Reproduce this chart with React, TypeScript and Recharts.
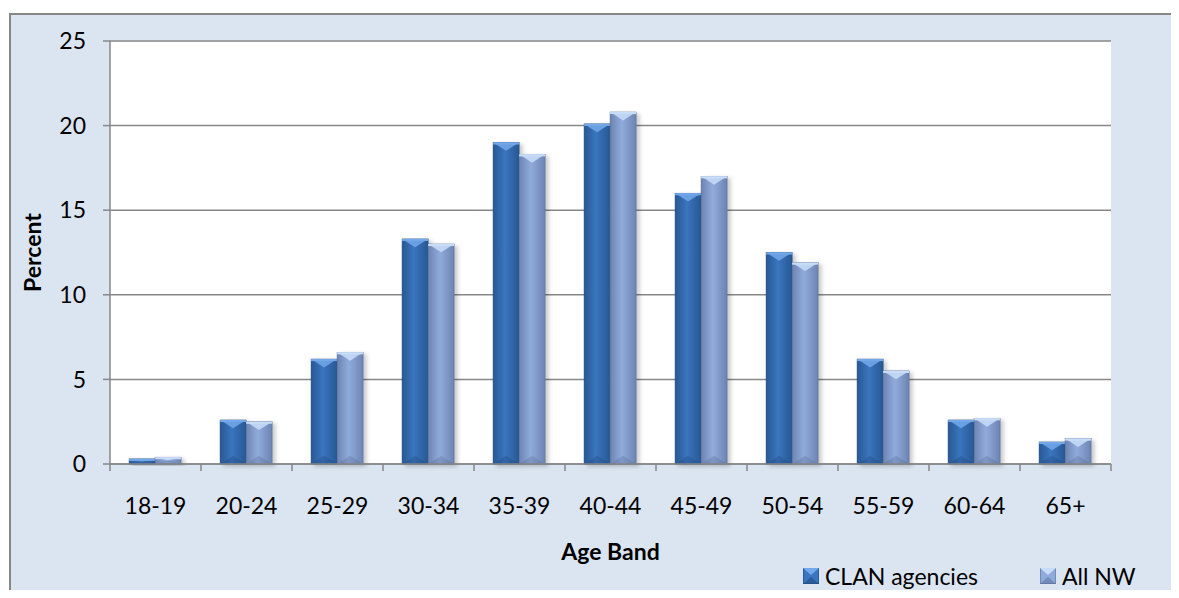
import { Bar, BarChart, CartesianGrid, Legend, XAxis, YAxis } from "recharts";

const ageBands = ["18-19", "20-24", "25-29", "30-34", "35-39", "40-44", "45-49", "50-54", "55-59", "60-64", "65+"];
const clanAgencies = [0.3, 2.6, 6.2, 13.3, 19.0, 20.1, 16.0, 12.5, 6.2, 2.6, 1.3];
const allNW = [0.4, 2.5, 6.6, 13.0, 18.3, 20.8, 17.0, 11.9, 5.5, 2.7, 1.5];
const yTicks = [0, 5, 10, 15, 20, 25];

const data = ageBands.map((band, i) => ({ band, clan: clanAgencies[i], nw: allNW[i] }));

const W = 1179;
const H = 598;
// the legend's own height (~28px) is added to the bottom offset by recharts
const margin = { top: 41, right: 68, left: 10, bottom: 6 };
const yAxisWidth = 100;
const plotWidth = W - margin.left - margin.right - yAxisWidth;
const bandWidth = plotWidth / ageBands.length;

const FONT = "Lato, 'Open Sans', sans-serif";
const AXIS = "#878787";

const palettes: Record<string, { edge: string; mid: string; light: string; dark: string }> = {
  clan: { edge: "#285894", mid: "#3a75bf", light: "#73a8ea", dark: "#1d4677" },
  nw: { edge: "#6d84b2", mid: "#90abdb", light: "#c9ddf8", dark: "#566b96" },
};

function Gradients() {
  return (
    <defs>
      {Object.entries(palettes).map(([k, p]) => (
        <linearGradient key={k} id={`grad-${k}`} x1="0" y1="0" x2="1" y2="0">
          <stop offset="0%" stopColor={p.edge} />
          <stop offset="45%" stopColor={p.mid} />
          <stop offset="100%" stopColor={p.edge} />
        </linearGradient>
      ))}
      <filter id="barShadow" x="-20%" y="-20%" width="150%" height="140%">
        <feDropShadow dx="3" dy="2" stdDeviation="2" floodColor="#000" floodOpacity="0.22" />
      </filter>
    </defs>
  );
}

function BevelBar(props: any) {
  const { x, y, width: w, height: h, dataKey } = props;
  if (!h || h <= 0) return null;
  const key = dataKey === "clan" ? "clan" : "nw";
  const p = palettes[key];
  const d = Math.min(w * 0.32, h / 2);
  return (
    <g filter="url(#barShadow)">
      <rect x={x} y={y} width={w} height={h} fill={`url(#grad-${key})`} stroke={p.dark} strokeWidth={0.6} />
      <polygon points={`${x},${y} ${x + w},${y} ${x + w / 2},${y + d}`} fill={p.light} opacity={0.85} />
      <rect x={x} y={y} width={w} height={Math.min(2, h)} fill={p.light} />
      <polygon points={`${x},${y + h} ${x + w},${y + h} ${x + w / 2},${y + h - d}`} fill={p.dark} opacity={0.3} />
    </g>
  );
}

function BandTick(props: any) {
  const { x, y, payload, index } = props;
  const last = index === ageBands.length - 1;
  return (
    <g>
      <line x1={x - bandWidth / 2} x2={x - bandWidth / 2} y1={y} y2={y + 7} stroke={AXIS} strokeWidth={1.5} />
      {last && <line x1={x + bandWidth / 2} x2={x + bandWidth / 2} y1={y} y2={y + 7} stroke={AXIS} strokeWidth={1.5} />}
      <text x={x} y={y + 50} textAnchor="middle" fill="#000" fontSize={23} fontFamily={FONT}>
        {payload.value}
      </text>
    </g>
  );
}

function PercentLabel(props: any) {
  const vb = props.viewBox;
  const cx = vb.x + 22;
  const cy = vb.y + vb.height / 2;
  return (
    <text
      x={cx}
      y={cy}
      transform={`rotate(-90 ${cx} ${cy})`}
      textAnchor="middle"
      dominantBaseline="central"
      fontSize={23}
      fontWeight={700}
      fontFamily={FONT}
      fill="#000"
    >
      Percent
    </text>
  );
}

const legendItems = [
  { key: "clan", label: "CLAN agencies" },
  { key: "nw", label: "All NW" },
];

function LegendBox() {
  return (
    <div style={{ display: "flex", alignItems: "center", fontFamily: FONT, fontSize: 23, lineHeight: "28px" }}>
      {legendItems.map((it, i) => {
        const p = palettes[it.key];
        return (
          <div key={it.key} style={{ display: "flex", alignItems: "center", marginRight: i === 0 ? 62 : 0 }}>
            <svg width={16} height={16} style={{ marginRight: 6 }}>
              <rect x={0} y={0} width={16} height={16} fill={p.mid} stroke={p.dark} strokeWidth={1} />
              <polygon points="0,0 16,0 8,7" fill={p.light} />
              <polygon points="0,16 16,16 8,9" fill={p.dark} opacity={0.5} />
            </svg>
            <span style={{ color: "#000" }}>{it.label}</span>
          </div>
        );
      })}
    </div>
  );
}

export default function App() {
  return (
    <div style={{ position: "relative", width: W, height: H, margin: -8, overflow: "hidden", background: "#fff", fontFamily: FONT }}>
      <div
        style={{
          position: "absolute",
          left: 8,
          top: -22,
          fontSize: 23,
          lineHeight: "23px",
          fontWeight: 700,
          whiteSpace: "nowrap",
          color: "#000",
        }}
      >
        Figure 2: Age Profile of Nurses in CLAN Agencies and All NW Nurses, July 2009
      </div>
      <div
        style={{
          position: "absolute",
          left: 9,
          top: 13,
          right: 0,
          bottom: 0,
          background: "#dbe5f1",
          borderLeft: `2px solid ${AXIS}`,
          borderTop: `2px solid ${AXIS}`,
        }}
      />
      <div style={{ position: "absolute", left: 0, top: 0 }}>
        <BarChart width={W} height={H} data={data} margin={margin} barCategoryGap="21%" barGap={0}>
          <Gradients />
          <CartesianGrid vertical={false} stroke={AXIS} strokeWidth={1.5} fill="#ffffff" />
          <XAxis
            dataKey="band"
            interval={0}
            height={100}
            tickLine={false}
            tickSize={0}
            tickMargin={0}
            axisLine={{ stroke: AXIS, strokeWidth: 1.5 }}
            tick={<BandTick />}
            label={{ value: "Age Band", position: "insideBottom", offset: 4, fill: "#000", fontSize: 23, fontWeight: 700, fontFamily: FONT }}
          />
          <YAxis
            width={yAxisWidth}
            domain={[0, 25]}
            ticks={yTicks}
            tickSize={7}
            tickMargin={17}
            axisLine={{ stroke: AXIS, strokeWidth: 1.5 }}
            tickLine={{ stroke: AXIS, strokeWidth: 1.5 }}
            tick={{ fill: "#000", fontSize: 23, fontFamily: FONT }}
            label={<PercentLabel />}
          />
          <Legend
            content={<LegendBox />}
            wrapperStyle={{ position: "absolute", left: 803, top: 562, width: "auto" }}
          />
          <Bar dataKey="clan" name="CLAN agencies" shape={<BevelBar />} isAnimationActive={false} />
          <Bar dataKey="nw" name="All NW" shape={<BevelBar />} isAnimationActive={false} />
        </BarChart>
      </div>
    </div>
  );
}
